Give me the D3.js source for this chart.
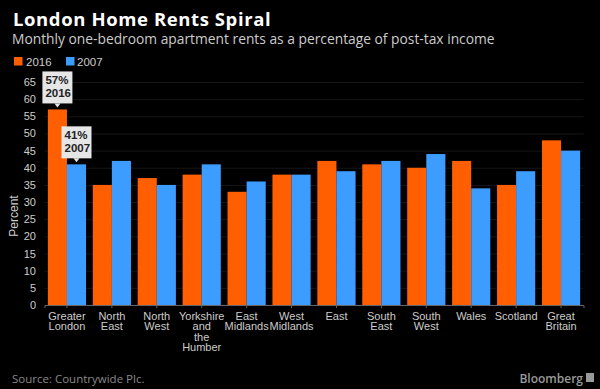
<!DOCTYPE html>
<html><head><meta charset="utf-8">
<script src="https://cdn.jsdelivr.net/npm/d3@7"></script>
<style>
html,body{margin:0;padding:0;background:#000;}
svg{display:block;}
</style></head>
<body>
<svg id="c" width="600" height="389"></svg>
<script>
const categories = [["Greater","London"],["North","East"],["North","West"],["Yorkshire","and","the","Humber"],["East","Midlands"],["West","Midlands"],["East"],["South","East"],["South","West"],["Wales"],["Scotland"],["Great","Britain"]];
const series2016 = [57,35,37,38,33,38,42,41,40,42,35,48];
const series2007 = [41,42,35,41,36,38,39,42,44,34,39,45];
const seriesNames = ["2016","2007"];
const yTicks = [0,5,10,15,20,25,30,35,40,45,50,55,60,65];
const annotations = [{cat:0, series:"2016", lines:["57%","2016"]},{cat:0, series:"2007", lines:["41%","2007"]}];

const colors = {"2016":"#ff5f00","2007":"#3d9cff"};
const svg = d3.select("#c");
svg.append("rect").attr("width",600).attr("height",389).attr("fill","#000");

const font = "'Liberation Sans', Arial, sans-serif";
svg.append("text").attr("x",13).attr("y",26).text("London Home Rents Spiral")
  .attr("fill","#fff").attr("font-family","'Open Sans', sans-serif").attr("font-weight","bold").attr("font-size",18.5)
  .attr("letter-spacing",0.6);
svg.append("text").attr("x",12).attr("y",44).text("Monthly one-bedroom apartment rents as a percentage of post-tax income")
  .attr("fill","#ccc").attr("font-family","'Open Sans', sans-serif").attr("font-size",13.8);

// legend
const leg = svg.append("g");
[[seriesNames[0],14,26],[seriesNames[1],66,77]].forEach(([n,x,tx])=>{
  leg.append("rect").attr("x",x).attr("y",57).attr("width",8.5).attr("height",8.5).attr("fill",colors[n]);
  leg.append("text").attr("x",tx).attr("y",65.5).text(n).attr("fill","#ccc").attr("font-family",font).attr("font-size",11.5);
});

const x0 = d3.scaleBand().domain(d3.range(categories.length)).range([44.5,583.5]).paddingInner(0.15).paddingOuter(0.075);
const x1 = d3.scaleBand().domain(seriesNames).range([0,x0.bandwidth()]);
const y = d3.scaleLinear().domain([0,65]).range([305,82]);

// gridlines
svg.append("g").selectAll("line").data(yTicks.filter(d=>d>0)).join("line")
  .attr("x1",44.5).attr("x2",583.5).attr("y1",d=>y(d)+0.5).attr("y2",d=>y(d)+0.5)
  .attr("stroke","#161616").attr("stroke-width",1);

// y axis
const ya = svg.append("g").attr("transform","translate(40,0)")
  .call(d3.axisLeft(y).tickValues(yTicks).tickSize(0).tickPadding(4));
ya.select(".domain").remove();
ya.selectAll("text").attr("fill","#ccc").attr("font-family",font).attr("font-size",11);

svg.append("text").attr("transform","translate(18,216) rotate(-90)").attr("text-anchor","middle")
  .text("Percent").attr("fill","#ccc").attr("font-family",font).attr("font-size",12);

// bars
const data = categories.map((c,i)=>({i, vals:[{s:"2016",v:series2016[i]},{s:"2007",v:series2007[i]}]}));
const g = svg.append("g").selectAll("g").data(data).join("g").attr("transform",d=>`translate(${x0(d.i)},0)`);
g.selectAll("rect").data(d=>d.vals).join("rect")
  .attr("x",d=>x1(d.s)).attr("width",x1.bandwidth()).attr("y",d=>y(d.v)).attr("height",d=>y(0)-y(d.v))
  .attr("fill",d=>colors[d.s]);

// x axis
const xa = svg.append("g").attr("transform",`translate(0,${y(0)})`)
  .call(d3.axisBottom(x0).tickSize(3).tickFormat(""));
xa.select(".domain").attr("stroke","#666");
xa.selectAll(".tick line").attr("stroke","#666");
const lab = svg.append("g").selectAll("text").data(categories.map((c,i)=>({c,i}))).join("text")
  .attr("x",d=>x0(d.i)+x0.bandwidth()/2).attr("y",319.5).attr("text-anchor","middle")
  .attr("fill","#ccc").attr("font-family",font).attr("font-size",11);
lab.each(function(d){
  d3.select(this).selectAll("tspan").data(d.c).join("tspan")
    .attr("x",x0(d.i)+x0.bandwidth()/2).attr("dy",(t,k)=>k===0?0:10.5).text(t=>t);
});

// annotations
annotations.forEach(a=>{
  const cx = x0(a.cat)+x1(a.series)+x1.bandwidth()/2;
  const top = y(a.series==="2016"?series2016[a.cat]:series2007[a.cat]);
  const w=30, h=32, tip=top-2, by=tip-4-h, bx=cx-15;
  const ag = svg.append("g");
  ag.append("rect").attr("x",bx).attr("y",by).attr("width",w).attr("height",h).attr("fill","#e6e6e6");
  ag.append("path").attr("d",`M${cx-3},${by+h} L${cx+3},${by+h} L${cx},${tip} Z`).attr("fill","#e6e6e6");
  a.lines.forEach((t,k)=>{
    ag.append("text").attr("x",bx+3).attr("y",by+13+k*13).text(t)
      .attr("fill","#222").attr("font-family",font).attr("font-weight","bold").attr("font-size",11.5);
  });
});

// footer
svg.append("text").attr("x",12).attr("y",383).text("Source: Countrywide Plc.")
  .attr("fill","#888").attr("font-family","'Open Sans', sans-serif").attr("font-size",11.5);
svg.append("text").attr("x",583).attr("y",383).attr("text-anchor","end").text("Bloomberg")
  .attr("fill","#999").attr("font-family","'Open Sans', sans-serif").attr("font-size",12).attr("font-weight","600");
svg.append("rect").attr("x",586).attr("y",373).attr("width",8).attr("height",9).attr("fill","#999");
</script>
</body></html>
